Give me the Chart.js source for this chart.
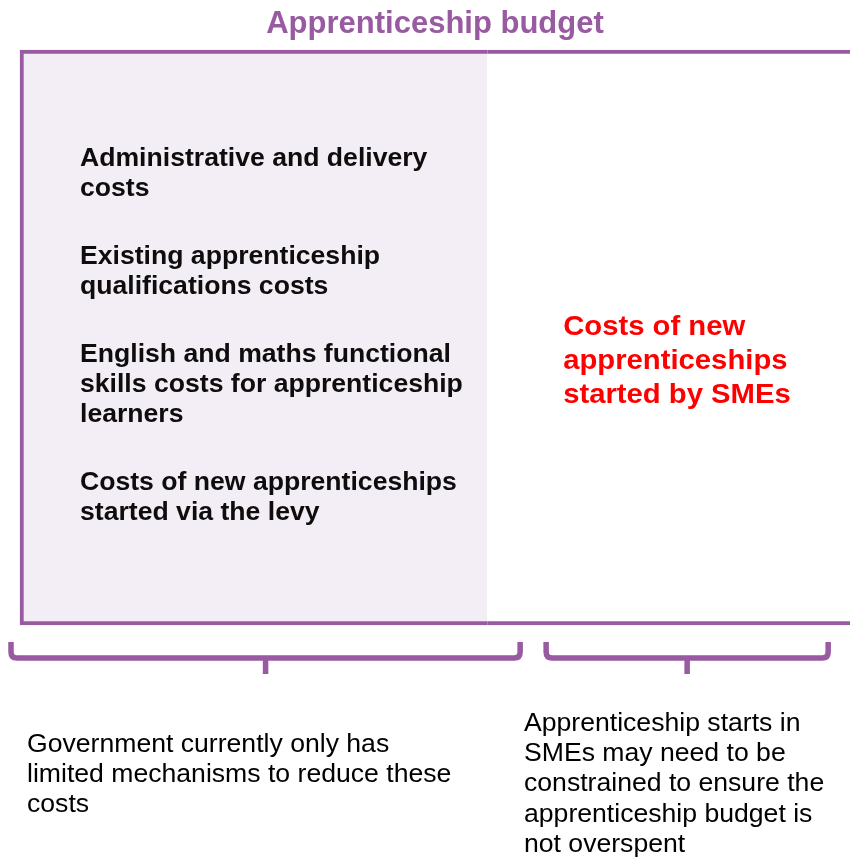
<!DOCTYPE html>
<html>
<head>
<meta charset="utf-8">
<title>Apprenticeship budget</title>
<script src="https://cdn.jsdelivr.net/npm/chart.js"></script>
<style>
  html, body { margin: 0; padding: 0; background: #ffffff; }
  #wrap { width: 850px; height: 857px; position: relative; }
</style>
</head>
<body>
<div id="wrap"><canvas id="grafico"></canvas></div>
<script>
// Dados do diagrama
const budgetLabels = ["Apprenticeship budget"];
const segmentNames = ["Costs with limited mechanisms to reduce", "Costs of new apprenticeships started by SMEs"];
const segmentShares = [56, 44];

const leftItems = [
    ["Administrative and delivery", "costs"],
    ["Existing apprenticeship", "qualifications costs"],
    ["English and maths functional", "skills costs for apprenticeship", "learners"],
    ["Costs of new apprenticeships", "started via the levy"]
];
const smeLines = ["Costs of new", "apprenticeships", "started by SMEs"];
const leftNote = ["Government currently only has", "limited mechanisms to reduce these", "costs"];
const rightNote = ["Apprenticeship starts in", "SMEs may need to be", "constrained to ensure the", "apprenticeship budget is", "not overspent"];

const PURPLE = "#985aa0";
const FONT = "'Liberation Sans', Arial, sans-serif";
const STRETCH = 1.064;

// escreve texto com leve esticamento horizontal
function writeLine(ctx, text, x, y, font, color) {
    ctx.save();
    ctx.font = font;
    ctx.fillStyle = color;
    ctx.textBaseline = "middle";
    ctx.textAlign = "left";
    ctx.translate(x, y);
    ctx.scale(STRETCH, 1);
    ctx.fillText(text, 0, 0);
    ctx.restore();
}

// chaves (brackets) abaixo de cada segmento
const bracesPlugin = {
    id: "braces",
    afterDraw(chart, args, opts) {
        const ctx = chart.ctx;
        const xs = chart.scales.x;
        const bottom = chart.chartArea.bottom;
        const top = bottom + 17;
        const h = bottom + 33;
        const tip = bottom + 49;
        const r = 6;
        let acc = 0;
        segmentShares.forEach((v, i) => {
            const off = opts.offsets[i];
            const x0 = xs.getPixelForValue(acc) + off[0];
            const x1 = xs.getPixelForValue(acc + v) + off[1];
            acc += v;
            const mid = (x0 + x1) / 2;
            ctx.save();
            ctx.strokeStyle = PURPLE;
            ctx.lineWidth = 5.5;
            ctx.beginPath();
            ctx.moveTo(x0, top);
            ctx.lineTo(x0, h - r);
            ctx.quadraticCurveTo(x0, h, x0 + r, h);
            ctx.lineTo(x1 - r, h);
            ctx.quadraticCurveTo(x1, h, x1, h - r);
            ctx.lineTo(x1, top);
            ctx.moveTo(mid, h);
            ctx.lineTo(mid, tip);
            ctx.stroke();
            ctx.restore();
        });
    }
};

// textos dentro e abaixo da caixa
const textPlugin = {
    id: "textos",
    afterDatasetsDraw(chart) {
        const ctx = chart.ctx;
        const area = chart.chartArea;
        const xs = chart.scales.x;

        // lista da esquerda
        let y = area.top + 109;
        leftItems.forEach(item => {
            item.forEach(line => {
                writeLine(ctx, line, area.left + 60, y, "bold 25px " + FONT, "#0d0d0d");
                y += 30;
            });
            y += 38;
        });

        // texto vermelho no segmento das SMEs
        const smeX = xs.getPixelForValue(segmentShares[0]) + 76;
        smeLines.forEach((line, i) => {
            writeLine(ctx, line, smeX, area.top + 277 + i * 34, "bold 27.5px " + FONT, "#ff0000");
        });

        // notas abaixo das chaves
        leftNote.forEach((line, i) => {
            writeLine(ctx, line, 27, area.bottom + 120 + i * 30, "25px " + FONT, "#000000");
        });
        rightNote.forEach((line, i) => {
            writeLine(ctx, line, 524, area.bottom + 99 + i * 30.25, "25px " + FONT, "#000000");
        });
    }
};

document.addEventListener("DOMContentLoaded", () => {
    const ctx = document.getElementById("grafico").getContext("2d");
    new Chart(ctx, {
        type: "bar",
        data: {
            labels: budgetLabels,
            datasets: [{
                label: segmentNames[0],
                data: [segmentShares[0]],
                backgroundColor: "#f3eef5",
                borderColor: PURPLE,
                borderWidth: { left: 4, top: 4, bottom: 4, right: 0 },
                borderSkipped: false,
                clip: false
            }, {
                label: segmentNames[1],
                data: [segmentShares[1]],
                backgroundColor: "#ffffff",
                borderColor: PURPLE,
                borderWidth: { left: 0, top: 4, bottom: 4, right: 4 },
                borderSkipped: false,
                clip: false
            }]
        },
        options: {
            indexAxis: "y",
            responsive: true,
            maintainAspectRatio: false,
            animation: false,
            barPercentage: 1,
            categoryPercentage: 1,
            layout: { padding: { left: 20, right: 0, top: 0, bottom: 232 } },
            scales: {
                x: { stacked: true, min: 0, max: 99.5, display: false },
                y: { stacked: true, display: false }
            },
            plugins: {
                legend: { display: false },
                tooltip: { enabled: false },
                title: {
                    display: true,
                    text: "Apprenticeship budget",
                    color: PURPLE,
                    font: { size: 31, weight: "bold", family: FONT },
                    padding: { top: 6, bottom: 7 }
                },
                braces: { offsets: [[-9, 33], [59, -26]] }
            }
        },
        plugins: [bracesPlugin, textPlugin]
    });
});
</script>
</body>
</html>
